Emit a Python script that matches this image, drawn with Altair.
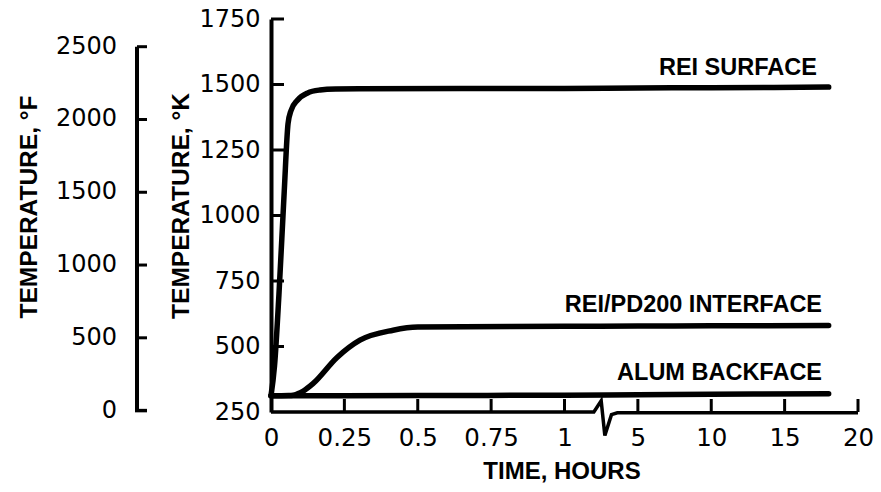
import json
import altair as alt
import pandas as pd

# ---- data (time in hours, temperature in K) ----
surface_t = [0, 0.012, 0.027, 0.045, 0.058, 0.068, 0.09, 0.125, 0.167, 0.22, 0.3, 1.0, 5, 10, 18]
surface_K = [312, 426, 697, 1090, 1350, 1400, 1440, 1468, 1479, 1483, 1484, 1485, 1487, 1488, 1490]

interface_t = [0, 0.06, 0.075, 0.09, 0.11, 0.143, 0.225, 0.303, 0.416, 0.5, 1.0, 5, 10, 18]
interface_K = [312, 313, 314, 319, 330, 358, 458, 524, 562, 574, 577, 578, 579, 580]

backface_t = [0, 0.5, 1.0, 5, 10, 18]
backface_K = [312, 313, 314, 316, 318, 320]

series_names = ["REI SURFACE", "REI/PD200 INTERFACE", "ALUM BACKFACE"]

K_ticks = [250, 500, 750, 1000, 1250, 1500, 1750]
F_ticks = [0, 500, 1000, 1500, 2000, 2500]
x_tick_pos = [0, 1, 2, 3, 4, 5, 6, 7, 8]
x_tick_labels = ["0", "0.25", "0.5", "0.75", "1", "5", "10", "15", "20"]

label_u = [7.44, 7.51, 7.51]
label_K = [1536, 632, 372]

break_u = [0, 4.40, 4.50, 4.55, 4.64, 4.72, 8]
break_K = [250, 250, 293, 160, 240, 247, 247]

# ---- tables ----
rows = []
for name, ts, ks in zip(series_names, [surface_t, interface_t, backface_t],
                        [surface_K, interface_K, backface_K]):
    for i, (t, k) in enumerate(zip(ts, ks)):
        rows.append({"series": name, "t": t, "K": k, "i": i})
lines_df = pd.DataFrame(rows)

U_EXPR = "datum.t <= 1 ? datum.t * 4 : 4 + datum.t / 5"

xscale = alt.Scale(domain=[0, 8], nice=False, zero=False)
yscale = alt.Scale(domain=[250, 1750], nice=False, zero=False)

label_expr = json.dumps(x_tick_labels) + "[datum.value]"

TITLE_FONT = "Liberation Sans"
LABEL_FONT = "DejaVu Sans"


def X(field="u"):
    return alt.X(f"{field}:Q", scale=xscale,
                 axis=alt.Axis(values=x_tick_pos, labelExpr=label_expr, domain=False,
                               ticks=False, grid=False, labelFont=LABEL_FONT,
                               labelFontSize=24.5, labelColor="black", labelPadding=14,
                               labelFlush=False, labelOverlap=False, title=None))


def Y(field="K"):
    return alt.Y(f"{field}:Q", scale=yscale,
                 axis=alt.Axis(values=K_ticks, format="d", orient="left", ticks=False,
                               domain=True, domainColor="black", domainWidth=4, grid=False,
                               labelFont=LABEL_FONT, labelFontSize=24, labelColor="black",
                               labelPadding=11, labelFlush=False, labelOverlap=False,
                               title=None))


lines = alt.Chart(lines_df).transform_calculate(u=U_EXPR).mark_line(
    color="black", strokeWidth=5.5, interpolate="monotone",
    strokeCap="round", strokeJoin="round"
).encode(x=X(), y=Y(), detail="series:N", order="i:Q")

# inward K ticks
k_ticks = alt.Chart(pd.DataFrame({"K": K_ticks[1:]})).mark_rule(
    color="black", strokeWidth=3
).encode(y=Y(), x=alt.value(0), x2=alt.value(13))

# inward x ticks
x_ticks = alt.Chart(pd.DataFrame({"u": x_tick_pos[1:]})).mark_rule(
    color="black", strokeWidth=3
).encode(x=X(), y=alt.value(393), y2=alt.value(380))

# broken x axis line
break_df = pd.DataFrame({"u": break_u, "K": break_K, "i": list(range(len(break_u)))})
x_line = alt.Chart(break_df).mark_line(
    color="black", strokeWidth=3.5, strokeJoin="miter"
).encode(x=X(), y=Y(), order="i:Q")

# Fahrenheit axis (same vertical scale, converted to K)
F_df = pd.DataFrame({"F": F_ticks, "lab": [str(v) for v in F_ticks]})
F_conv = "(datum.F + 459.67) / 1.8"
f_line = alt.Chart(pd.DataFrame({"F": [min(F_ticks)], "F2": [max(F_ticks)]})).transform_calculate(
    K=F_conv, K2="(datum.F2 + 459.67) / 1.8"
).mark_rule(color="black", strokeWidth=4).encode(
    y=Y(), y2="K2:Q", x=alt.value(-134)
)
f_ticks = alt.Chart(F_df[F_df.F > 0]).transform_calculate(K=F_conv).mark_rule(
    color="black", strokeWidth=3
).encode(y=Y(), x=alt.value(-134), x2=alt.value(-124))
f_ticks0 = alt.Chart(F_df[F_df.F == 0]).transform_calculate(K=F_conv).mark_rule(
    color="black", strokeWidth=3.5
).encode(y=Y(), x=alt.value(-136), x2=alt.value(-124))
f_labels = alt.Chart(F_df).transform_calculate(K=F_conv).mark_text(
    font=LABEL_FONT, fontSize=24, align="right", baseline="middle", color="black"
).encode(y=Y(), x=alt.value(-154), text="lab:N")

# curve labels
lab_df = pd.DataFrame({"u": label_u, "K": label_K, "lab": series_names})
curve_labels = alt.Chart(lab_df).mark_text(
    font="Liberation Sans", fontWeight="bold", fontSize=23.5, align="right",
    baseline="alphabetic", color="black"
).encode(x=X(), y=Y(), text="lab:N")


def title_text(txt, x, y, angle=0, size=24.5):
    kw = dict(font=TITLE_FONT, fontWeight="bold", fontSize=size, align="center",
              baseline="middle", color="black")
    if angle:
        kw["angle"] = angle
    return alt.Chart(pd.DataFrame({"txt": [txt]})).mark_text(**kw).encode(
        x=alt.value(x), y=alt.value(y), text="txt:N")


t_k = title_text("TEMPERATURE, °K", -89, 187, 270)
t_f = title_text("TEMPERATURE, °F", -241, 188, 270)
t_x = title_text("TIME, HOURS", 291, 453, 0, 24)

chart = alt.layer(
    lines, k_ticks, x_ticks, x_line, f_line, f_ticks, f_ticks0, f_labels,
    curve_labels, t_k, t_f, t_x
).properties(
    width=587, height=393,
    autosize=alt.AutoSizeParams(type="none"),
    padding={"left": 271, "top": 19, "right": 23, "bottom": 80},
    background="white",
).configure_view(stroke=None)

chart.save("out.html", embed_options={"renderer": "svg", "actions": False})
